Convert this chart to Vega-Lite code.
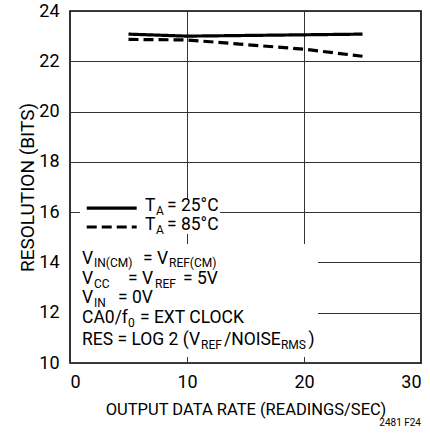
{
  "$schema": "https://vega.github.io/schema/vega-lite/v6.json",
  "width": 351,
  "height": 352,
  "autosize": {"type": "none"},
  "padding": {"left": 70, "top": 11, "right": 9, "bottom": 72},
  "background": "white",
  "config": {
    "view": {"stroke": "#000", "strokeWidth": 1.6},
    "axis": {"grid": true, "gridColor": "#333", "gridWidth": 1, "gridOpacity": 1, "domain": false, "ticks": false,
      "labelFont": "Roboto", "labelFontSize": 18, "labelColor": "#000",
      "titleFont": "Roboto", "titleFontSize": 16.5, "titleFontWeight": "normal", "titleColor": "#000"}
  },
  "datasets": {
    "curves": [
      {"x": 5, "y": 23.08, "series": "25°C"},
      {"x": 10, "y": 23.0, "series": "25°C"},
      {"x": 25, "y": 23.08, "series": "25°C"},
      {"x": 5, "y": 22.87, "series": "85°C"},
      {"x": 10, "y": 22.85, "series": "85°C"},
      {"x": 20, "y": 22.48, "series": "85°C"},
      {"x": 25, "y": 22.2, "series": "85°C"}
    ],
    "boxes": [
      {"x": 0.85, "x2": 12.82, "y": 16.52, "y2": 15.13},
      {"x": 0.085, "x2": 21.2, "y": 14.73, "y2": 10.24}
    ],
    "keys": [
      {"x": 1.43, "x2": 5.7, "y": 16.16, "series": "25°C"},
      {"x": 1.43, "x2": 5.7, "y": 15.41, "series": "85°C"}
    ],
    "main": [
      {"x": 6.41, "y": 16.24, "text": "T"},
      {"x": 8.29, "y": 16.24, "text": "= 25°C"},
      {"x": 6.41, "y": 15.47, "text": "T"},
      {"x": 8.29, "y": 15.47, "text": "= 85°C"},
      {"x": 1.026, "y": 14.15, "text": "V"},
      {"x": 6.24, "y": 14.15, "text": "= V"},
      {"x": 1.026, "y": 13.33, "text": "V"},
      {"x": 4.96, "y": 13.33, "text": "= V"},
      {"x": 9.66, "y": 13.33, "text": "= 5V"},
      {"x": 1.026, "y": 12.58, "text": "V"},
      {"x": 4.10, "y": 12.58, "text": "= 0V"},
      {"x": 1.026, "y": 11.78, "text": "CA0/f"},
      {"x": 5.98, "y": 11.78, "text": "= EXT CLOCK"},
      {"x": 1.026, "y": 10.91, "text": "RES = LOG 2 (V"},
      {"x": 13.16, "y": 10.91, "text": "/NOISE"},
      {"x": 20.39, "y": 10.91, "text": ")"}
    ],
    "subs": [
      {"x": 7.35, "y": 16.05, "text": "A"},
      {"x": 7.35, "y": 15.28, "text": "A"},
      {"x": 2.05, "y": 13.96, "text": "IN(CM)"},
      {"x": 8.46, "y": 13.96, "text": "REF(CM)"},
      {"x": 2.05, "y": 13.14, "text": "CC"},
      {"x": 7.27, "y": 13.14, "text": "REF"},
      {"x": 2.05, "y": 12.40, "text": "IN"},
      {"x": 4.96, "y": 11.59, "text": "0"},
      {"x": 11.2, "y": 10.72, "text": "REF"},
      {"x": 18.03, "y": 10.72, "text": "RMS"}
    ],
    "tag": [{"x": 30, "y": 7.6, "text": "2481 F24"}]
  },
  "encoding": {
    "x": {"field": "x", "type": "quantitative", "scale": {"domain": [0, 30], "nice": false},
      "axis": {"values": [0, 10, 20, 30], "title": "OUTPUT DATA RATE (READINGS/SEC)", "labelPadding": 10, "titlePadding": 10}},
    "y": {"field": "y", "type": "quantitative", "scale": {"domain": [10, 24], "nice": false},
      "axis": {"values": [10, 12, 14, 16, 18, 20, 22, 24], "title": "RESOLUTION (BITS)", "labelPadding": 11, "titlePadding": 1, "titleFontSize": 19}}
  },
  "layer": [
    {
      "data": {"name": "boxes"},
      "mark": {"type": "rect", "fill": "white", "stroke": null},
      "encoding": {"x2": {"field": "x2"}, "y2": {"field": "y2"}}
    },
    {
      "data": {"name": "curves"},
      "mark": {"type": "line", "color": "#000", "strokeWidth": 3.2},
      "encoding": {
        "detail": {"field": "series"},
        "strokeDash": {"field": "series", "type": "nominal", "scale": {"domain": ["25°C", "85°C"], "range": [[1, 0], [10, 5]]}, "legend": null}
      }
    },
    {
      "data": {"name": "keys"},
      "mark": {"type": "rule", "color": "#000", "strokeWidth": 3.2},
      "encoding": {
        "x2": {"field": "x2"},
        "strokeDash": {"field": "series", "type": "nominal", "scale": {"domain": ["25°C", "85°C"], "range": [[1, 0], [10, 5]]}, "legend": null}
      }
    },
    {
      "data": {"name": "main"},
      "mark": {"type": "text", "align": "left", "baseline": "middle", "font": "Roboto", "fontSize": 17.5, "color": "#000"},
      "encoding": {"text": {"field": "text"}}
    },
    {
      "data": {"name": "subs"},
      "mark": {"type": "text", "align": "left", "baseline": "middle", "font": "Roboto", "fontSize": 12, "color": "#000"},
      "encoding": {"text": {"field": "text"}}
    },
    {
      "data": {"name": "tag"},
      "mark": {"type": "text", "align": "right", "baseline": "middle", "font": "Roboto", "fontSize": 10, "color": "#000"},
      "encoding": {"text": {"field": "text"}}
    }
  ]
}
